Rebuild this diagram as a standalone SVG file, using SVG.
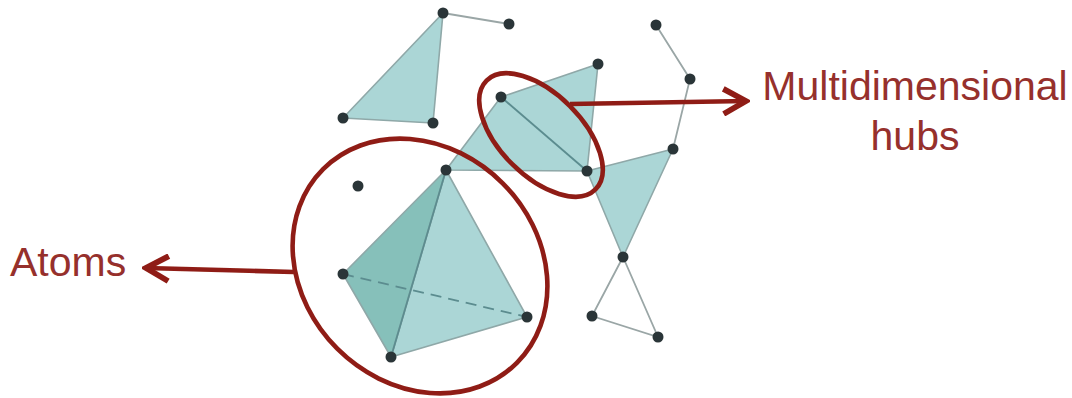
<svg xmlns="http://www.w3.org/2000/svg" width="1072" height="398" viewBox="0 0 1072 398">
<defs>
<marker id="arr" markerUnits="userSpaceOnUse" markerWidth="30" markerHeight="30" refX="21" refY="12" viewBox="0 0 24 24" orient="auto"><path d="M3 2 L21 12 L3 22" fill="none" stroke="#8f1d14" stroke-width="4.6"/></marker>
<filter id="soft" x="-5%" y="-5%" width="110%" height="110%"><feGaussianBlur stdDeviation="0.6"/></filter>
</defs>
<style>
.f{fill:#abd6d6;stroke:#8fa8a8;stroke-width:1.6;stroke-linejoin:round}
.d{fill:#86c0ba}
.e{fill:none;stroke:#9aa6a6;stroke-width:1.8}
.k{fill:none;stroke:#5b8c8f;stroke-width:1.8}
.n{fill:#2c3637}
.r{fill:none;stroke:#8f1d14;stroke-width:4.6}
.t{font-family:"Liberation Sans",Arial,sans-serif;font-size:41px;fill:#96302c}
</style>
<rect width="1072" height="398" fill="#fff"/>
<g filter="url(#soft)">
<g id="shapes">
<path class="f" d="M443 13 L343 118 L433 123 Z"/>
<path class="f" d="M446 170 L501 97 L598 64 L587 171 Z"/>
<path class="f" d="M587 171 L673 149 L623 257 Z"/>
<path class="f" d="M446 170 L527 317 L391 357 Z"/>
<path class="f d" d="M446 170 L343 274 L391 357 Z"/>
</g>
<g id="connectors">
<path class="e" d="M443 13 L509 24"/>
<path class="e" d="M656 25 L690 79 L673 149"/>
<path class="e" d="M623 257 L592 316 L658 337 Z"/>
<path class="k" d="M501 97 L587 171"/>
<path class="k" d="M446 170 L391 357"/>
<path class="k" d="M343 274 L527 317" stroke-dasharray="11 7"/>
<path class="r" d="M294 272 L146 268" marker-end="url(#arr)"/>
<path class="r" d="M570 104 L746 101" marker-end="url(#arr)"/>
</g>
<g id="atoms-ring"><ellipse class="r" cx="420" cy="266" rx="137" ry="117" transform="rotate(45 420 266)"/></g>
<g id="hubs-ring"><ellipse class="r" cx="541" cy="135" rx="77" ry="41" transform="rotate(45 541 135)"/></g>
<g id="nodes">
<circle id="n1" class="n" cx="443" cy="13" r="5.5"/>
<circle id="n2" class="n" cx="509" cy="24" r="5.5"/>
<circle id="n3" class="n" cx="343" cy="118" r="5.5"/>
<circle id="n4" class="n" cx="433" cy="123" r="5.5"/>
<circle id="n5" class="n" cx="598" cy="64" r="5.5"/>
<circle id="n6" class="n" cx="501" cy="97" r="5.5"/>
<circle id="n7" class="n" cx="587" cy="171" r="5.5"/>
<circle id="n8" class="n" cx="446" cy="170" r="5.5"/>
<circle id="n9" class="n" cx="358" cy="186" r="5.5"/>
<circle id="n10" class="n" cx="343" cy="274" r="5.5"/>
<circle id="n11" class="n" cx="527" cy="317" r="5.5"/>
<circle id="n12" class="n" cx="391" cy="357" r="5.5"/>
<circle id="n13" class="n" cx="656" cy="25" r="5.5"/>
<circle id="n14" class="n" cx="690" cy="79" r="5.5"/>
<circle id="n15" class="n" cx="673" cy="149" r="5.5"/>
<circle id="n16" class="n" cx="623" cy="257" r="5.5"/>
<circle id="n17" class="n" cx="592" cy="316" r="5.5"/>
<circle id="n18" class="n" cx="658" cy="337" r="5.5"/>
</g>
</g>
<g id="labels">
<text class="t" x="10" y="276">Atoms</text>
<text class="t" x="915" y="100" text-anchor="middle">Multidimensional</text>
<text class="t" x="915" y="150" text-anchor="middle">hubs</text>
</g>
</svg>
